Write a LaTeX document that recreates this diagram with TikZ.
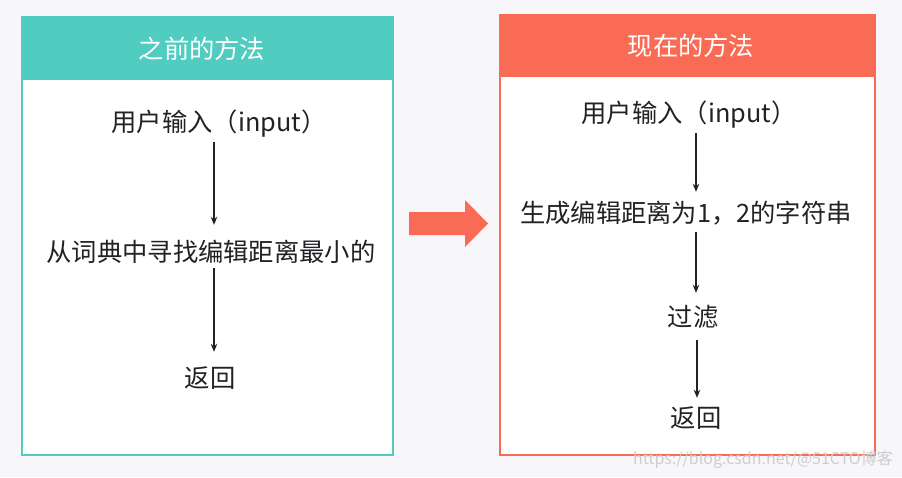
\documentclass[tikz,border=0pt]{standalone}
\usepackage{fontspec}
\setmainfont{Noto Sans CJK SC}
\usetikzlibrary{arrows.meta}
\definecolor{bgc}{RGB}{247,247,249}
\definecolor{teal1}{RGB}{80,204,192}
\definecolor{red1}{RGB}{249,107,84}
\definecolor{txt}{RGB}{34,34,38}
\definecolor{wm}{RGB}{205,205,208}
\tikzset{
  lbl/.style={inner sep=0pt, text height=22pt, text depth=3pt, font=\fontsize{25.3}{27}\selectfont, text=txt},
  ttl/.style={inner sep=0pt, font=\fontsize{25.3}{27}\selectfont, text=white},
  arr/.style={line width=1.7pt, draw=txt, -{Stealth[length=8pt,width=6.5pt]}},
}
\begin{document}
\begin{tikzpicture}[x=1pt,y=-1pt]
\useasboundingbox (0,0) rectangle (902,477);
\fill[bgc] (0,0) rectangle (902,477);
% left panel
\fill[white] (22,17) rectangle (393,455);
\fill[teal1] (22,17) rectangle (393,80);
\draw[teal1, line width=2.5pt] (22,17) rectangle (393,455);
\node[ttl] (lt) at (202,48.5) {之前的方法};
\node[lbl] (l1) at (219,122) {用户输入（input）};
\node[lbl] (l2) at (211,252) {从词典中寻找编辑距离最小的};
\node[lbl] (l3) at (210,378) {返回};
\draw[arr] ([xshift=-5pt,yshift=-7.5pt]l1.south) -- ([xshift=3pt,yshift=14.5pt]l2.north);
\draw[arr] ([xshift=3pt,yshift=-3.5pt]l2.south) -- ([xshift=4pt,yshift=13.5pt]l3.north);
% big arrow
\fill[red1] (409,212) -- (465,212) -- (465,200) -- (488,223.5) -- (465,247) -- (465,235) -- (409,235) -- cycle;
% right panel
\fill[white] (500,15) rectangle (875,455);
\fill[red1] (500,15) rectangle (875,77);
\draw[red1, line width=2pt] (500,15) rectangle (875,455);
\node[ttl] (rt) at (691,46) {现在的方法};
\node[lbl] (r1) at (689,113) {用户输入（input）};
\node[lbl] (r2) at (686,213) {生成编辑距离为1，2的字符串};
\node[lbl] (r3) at (693,317) {过滤};
\node[lbl] (r4) at (696,418) {返回};
\draw[arr] ([xshift=7pt,yshift=-7.5pt]r1.south) -- ([xshift=10pt,yshift=8.5pt]r2.north);
\draw[arr] ([xshift=10pt,yshift=-6.5pt]r2.south) -- ([xshift=3pt,yshift=11.5pt]r3.north);
\draw[arr] ([xshift=4pt,yshift=-10.5pt]r3.south) -- ([xshift=1pt,yshift=7.5pt]r4.north);
% watermark
\node[anchor=east, inner sep=0pt, text=wm, font=\fontsize{16}{18}\selectfont] (wmk) at (893,460) {https://blog.csdn.net/@51CTO博客};
\end{tikzpicture}
\end{document}
